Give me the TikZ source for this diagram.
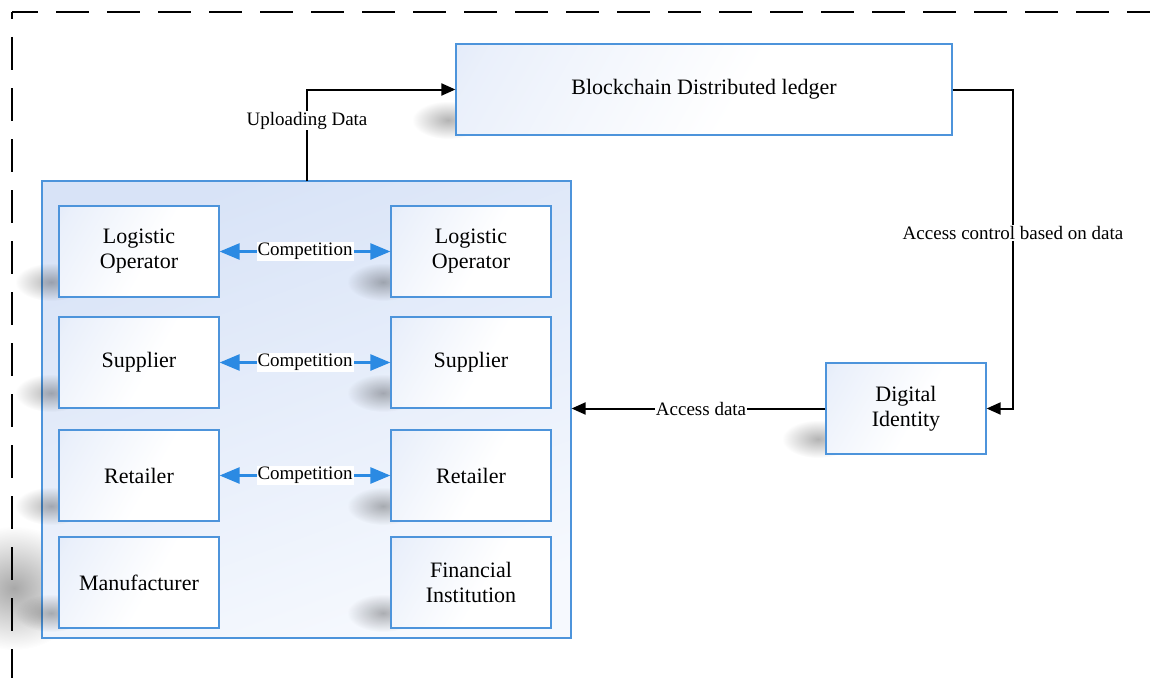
\documentclass[tikz,border=0pt]{standalone}
\usepackage{fontspec}
\setmainfont{Liberation Serif}
\usetikzlibrary{arrows.meta,fadings}

\definecolor{edgeblue}{HTML}{4D94DB}
\definecolor{fillblue}{HTML}{D0DDF5}
\definecolor{panelblue}{HTML}{D8E3F7}
\definecolor{panellight}{HTML}{F6F9FE}
\definecolor{compblue}{HTML}{2B8AE3}

% light falls from the upper left: blue rim, white interior
\pgfdeclareverticalshading{boxlight}{100bp}{color(0bp)=(white); color(45bp)=(white);
  color(80bp)=(fillblue!45!white); color(100bp)=(fillblue)}
\tikzfading[name=softblob, inner color=transparent!15, outer color=transparent!100]

\tikzset{
  unitbox/.style={draw=edgeblue, line width=1.2pt, shading=boxlight, shading angle=60,
    minimum width=160pt, minimum height=91pt, inner sep=0pt,
    align=center, font=\fontsize{22}{25}\selectfont},
  panel/.style={draw=edgeblue, line width=1.2pt, top color=panelblue, bottom color=panellight,
    shading angle=20, minimum width=529pt, minimum height=457pt, inner sep=0pt},
  flow/.style={draw=black, line width=2pt, -{Triangle[length=14pt,width=12pt]}},
  rivalry/.style={draw=compblue, line width=2.5pt,
    {Triangle[length=20pt,width=16pt]}-{Triangle[length=20pt,width=16pt]}},
  lbl/.style={fill=white, inner sep=1pt, font=\fontsize{19}{21}\selectfont},
  frame/.style={line width=2pt, dash pattern=on 33pt off 18pt},
  blob/.style={fill=black, opacity=#1, path fading=softblob},
  blob/.default=0.35
}
% soft grey shadow by the lower-left corner of a box whose lower-left corner is (#1,#2)
\newcommand\cornershade[2]{%
  \path[blob] (#1-8,#2-15) ellipse [x radius=36pt, y radius=19pt];}

\begin{document}
\begin{tikzpicture}[x=1pt,y=-1pt]
\useasboundingbox (0,0) rectangle (1150,677);

% dashed outer frame
\draw[frame, dash phase=7pt] (12,12) -- (1160,12);
\draw[frame, dash phase=26pt] (12,12) -- (12,690);

% shadows behind the ledger, the panel and the identity box
\path[blob=0.4] (14,588) ellipse [x radius=70pt, y radius=62pt];
\cornershade{456}{135}
\cornershade{826}{454}

% panel holding the supply chain actors
\node[panel] (panel) at (306.5,409.5) {};

% actor shadows
\cornershade{59}{297}  \cornershade{391}{297}
\cornershade{59}{408}  \cornershade{391}{408}
\cornershade{59}{521}  \cornershade{391}{521}
\cornershade{59}{628}  \cornershade{391}{628}

% actors
\node[unitbox] (lo1) at (139,251.5) {Logistic\\Operator};
\node[unitbox] (lo2) at (471,251.5) {Logistic\\Operator};
\node[unitbox] (su1) at (139,362.5) {Supplier};
\node[unitbox] (su2) at (471,362.5) {Supplier};
\node[unitbox] (re1) at (139,475.5) {Retailer};
\node[unitbox] (re2) at (471,475.5) {Retailer};
\node[unitbox] (ma)  at (139,582.5) {Manufacturer};
\node[unitbox] (fi)  at (471,582.5) {Financial\\Institution};

% ledger and identity
\node[unitbox, minimum width=496pt] (ledger) at (704,89.5) {Blockchain Distributed ledger};
\node[unitbox] (did) at (906,408.5) {Digital\\Identity};

% competition links
\draw[rivalry] (lo1.east) -- node[lbl] {Competition} (lo2.west);
\draw[rivalry] (su1.east) -- node[lbl] {Competition} (su2.west);
\draw[rivalry] (re1.east) -- node[lbl] {Competition} (re2.west);

% data flows
\coordinate (up) at (307,181);
\coordinate (bend) at (1013,89.5);
\draw[flow] (up) |- node[lbl, pos=0.33] {Uploading Data} (ledger.west);
\draw[flow] (ledger.east) -- (bend) |- node[lbl, pos=0.225] {Access control based on data} (did.east);
\draw[flow] (did.west) -- node[lbl, pos=0.49] {Access data} (panel.east |- did.west);
\end{tikzpicture}
\end{document}
